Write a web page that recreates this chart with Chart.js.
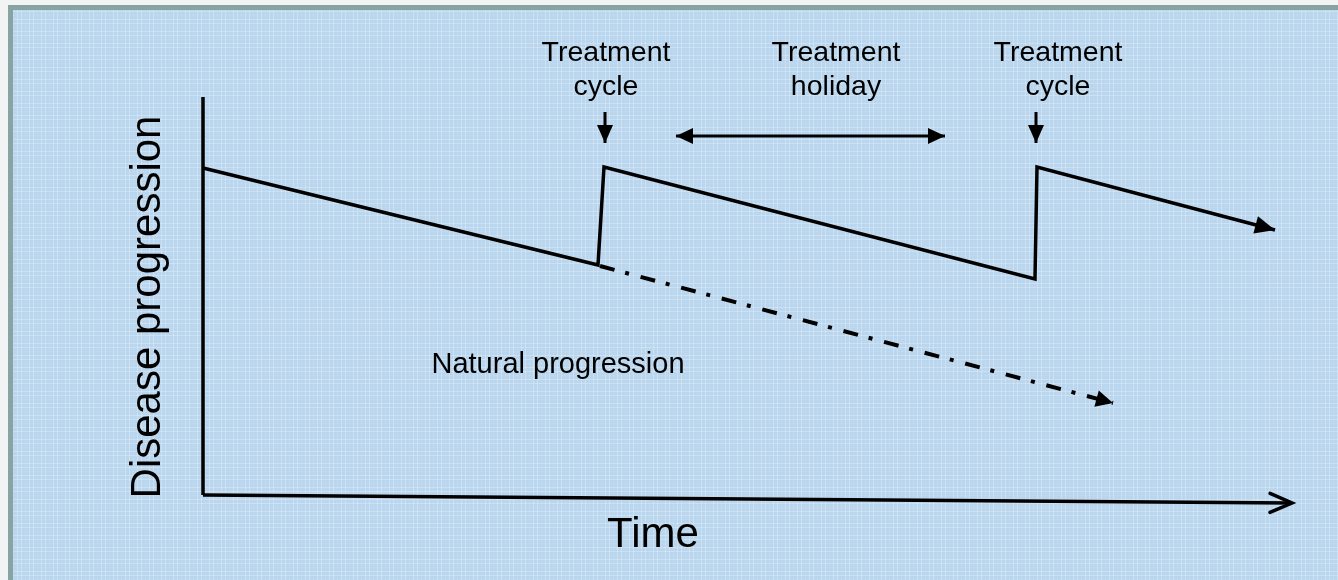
<!DOCTYPE html>
<html>
<head>
<meta charset="utf-8">
<title>Treatment cycles</title>
<script src="https://cdn.jsdelivr.net/npm/chart.js@4"></script>
<style>
  html, body { margin: 0; padding: 0; background: #f2f4f4; }
  #wrap {
    position: absolute; left: 8px; top: 5px; width: 1330px; height: 575px;
    box-sizing: border-box;
    border-top: 5px solid #87a4a3; border-left: 5px solid #87a4a3;
    background-color: #b9d6ee;
    background-image:
      repeating-linear-gradient(0deg, rgba(255,255,255,0.25) 0 1px, transparent 1px 4px),
      repeating-linear-gradient(90deg, rgba(255,255,255,0.25) 0 1px, transparent 1px 4px),
      repeating-linear-gradient(0deg, rgba(140,190,228,0.45) 0 1px, transparent 1px 12px),
      repeating-linear-gradient(90deg, rgba(140,190,228,0.45) 0 1px, transparent 1px 12px);
  }
  canvas { position: absolute; left: 0; top: 0; }
</style>
</head>
<body>
<div id="wrap"></div>
<canvas id="c" width="1338" height="580"></canvas>
<script>
// time (x) and disease progression (y), arbitrary units
const treatedTime = [0, 39.5, 40.1, 83.2, 83.4, 107.2];
const treatedLevel = [32.7, 23.0, 32.8, 21.6, 32.8, 26.5];

const naturalTime = [39.7, 91.0];
const naturalLevel = [22.9, 9.2];

const yAxisTime = [0, 0];
const yAxisLevel = [39.8, 0];
const xAxisTime = [0, 108.9];
const xAxisLevel = [0, -0.8];

// markers above the curve
const cycle1Time = [40.2, 40.2];
const cycle2Time = [83.3, 83.3];
const cycleLevel = [38.3, 35.2];
const holidayTime = [47.3, 74.2];
const holidayLevel = [35.9, 35.9];

const labels = [
  { lines: ['Treatment', 'cycle'], x: 40.3, y: 43.4, size: 28.5 },
  { lines: ['Treatment', 'holiday'], x: 63.3, y: 43.4, size: 28.5 },
  { lines: ['Treatment', 'cycle'], x: 85.5, y: 43.4, size: 28.5 },
  { lines: ['Natural progression'], x: 35.5, y: 12.2, size: 29 },
  { lines: ['Time'], x: 45.0, y: -5.2, size: 42 },
];
const yTitle = { text: 'Disease progression', x: -4.3, y: 18.8, size: 42 };

const pts = (xs, ys) => xs.map((x, i) => ({ x: x, y: ys[i] }));

function line(data, extra) {
  return Object.assign({
    data: data,
    borderColor: '#000',
    borderWidth: 3,
    pointRadius: 0,
    fill: false,
    tension: 0,
    borderJoinStyle: 'miter',
    borderCapStyle: 'butt',
  }, extra);
}

// draws arrow heads at dataset ends
const arrowPlugin = {
  id: 'arrows',
  afterDatasetsDraw(chart) {
    const ctx = chart.ctx;
    chart.data.datasets.forEach((ds, i) => {
      const el = chart.getDatasetMeta(i).data;
      const n = el.length;
      const heads = [];
      if (ds.arrowEnd) heads.push([el[n - 2], el[n - 1], ds.arrowEnd]);
      if (ds.arrowStart) heads.push([el[1], el[0], ds.arrowStart]);
      heads.forEach(([a, b, style]) => {
        const ang = Math.atan2(b.y - a.y, b.x - a.x);
        const len = style.len, half = style.half;
        ctx.save();
        ctx.translate(b.x, b.y);
        ctx.rotate(ang);
        ctx.beginPath();
        ctx.moveTo(-len, -half);
        ctx.lineTo(0, 0);
        ctx.lineTo(-len, half);
        if (style.open) {
          ctx.lineWidth = 3.5;
          ctx.lineCap = 'round';
          ctx.lineJoin = 'miter';
          ctx.strokeStyle = '#000';
          ctx.stroke();
        } else {
          ctx.closePath();
          ctx.fillStyle = '#000';
          ctx.fill();
        }
        ctx.restore();
      });
    });
  }
};

const textPlugin = {
  id: 'texts',
  afterDraw(chart) {
    const ctx = chart.ctx;
    const xs = chart.scales.x, ys = chart.scales.y;
    ctx.save();
    ctx.fillStyle = '#000';
    ctx.textAlign = 'center';
    ctx.textBaseline = 'alphabetic';
    labels.forEach(l => {
      ctx.font = l.size + 'px "Liberation Sans", Arial, sans-serif';
      const px = xs.getPixelForValue(l.x);
      const py = ys.getPixelForValue(l.y);
      l.lines.forEach((t, k) => ctx.fillText(t, px, py + k * 34));
    });
    ctx.translate(xs.getPixelForValue(yTitle.x), ys.getPixelForValue(yTitle.y));
    ctx.rotate(-Math.PI / 2);
    ctx.font = yTitle.size + 'px "Liberation Sans", Arial, sans-serif';
    ctx.fillText(yTitle.text, 0, 0);
    ctx.restore();
  }
};

const solidHead = { len: 20, half: 9 };

new Chart(document.getElementById('c'), {
  type: 'line',
  data: {
    datasets: [
      line(pts(yAxisTime, yAxisLevel), { borderWidth: 3.5 }),
      line(pts(xAxisTime, xAxisLevel), { borderWidth: 3.5, arrowEnd: { len: 22, half: 9.5, open: true } }),
      line(pts(treatedTime, treatedLevel), { borderWidth: 3.5, arrowEnd: solidHead }),
      line(pts(naturalTime, naturalLevel), { borderWidth: 4, borderDash: [15, 11, 4, 12], arrowEnd: { len: 17, half: 8.5 } }),
      line(pts(cycle1Time, cycleLevel), { arrowEnd: { len: 18, half: 8 } }),
      line(pts(cycle2Time, cycleLevel), { arrowEnd: { len: 18, half: 8 } }),
      line(pts(holidayTime, holidayLevel), { borderWidth: 3, arrowStart: { len: 17, half: 8 }, arrowEnd: { len: 17, half: 8 } }),
    ]
  },
  options: {
    responsive: false,
    animation: false,
    layout: { padding: 0 },
    plugins: { legend: { display: false }, tooltip: { enabled: false } },
    scales: {
      x: { type: 'linear', min: -20.3, max: 113.5, display: false },
      y: { type: 'linear', min: -8.5, max: 49.5, display: false },
    }
  },
  plugins: [arrowPlugin, textPlugin]
});
</script>
</body>
</html>
